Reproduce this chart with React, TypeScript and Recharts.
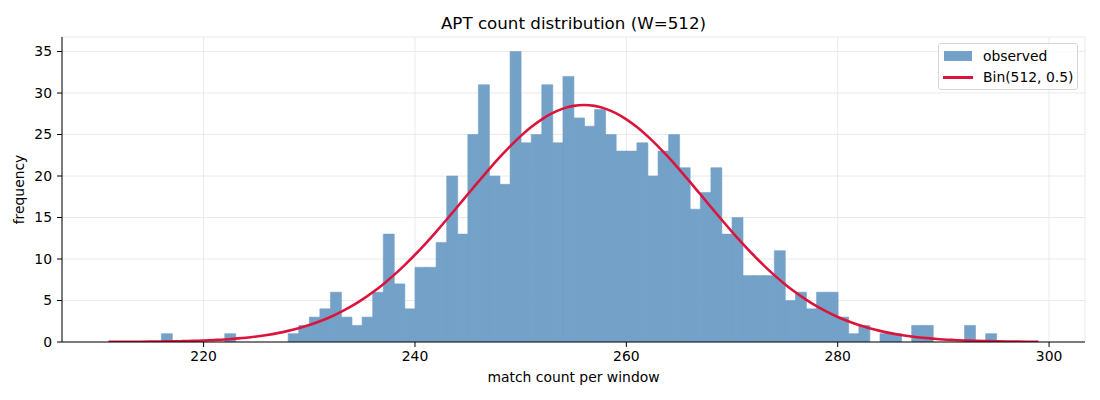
import React from "react";
import { ComposedChart, Bar, Line, XAxis, YAxis, CartesianGrid } from "recharts";

const binStarts = [
  211, 212, 213, 214, 215, 216, 217, 218, 219, 220,
  221, 222, 223, 224, 225, 226, 227, 228, 229, 230,
  231, 232, 233, 234, 235, 236, 237, 238, 239, 240,
  241, 242, 243, 244, 245, 246, 247, 248, 249, 250,
  251, 252, 253, 254, 255, 256, 257, 258, 259, 260,
  261, 262, 263, 264, 265, 266, 267, 268, 269, 270,
  271, 272, 273, 274, 275, 276, 277, 278, 279, 280,
  281, 282, 283, 284, 285, 286, 287, 288, 289, 290,
  291, 292, 293, 294, 295, 296, 297, 298, 299,
];

const observed = [
  0, 0, 0, 0, 0, 1, 0, 0, 0, 0,
  0, 1, 0, 0, 0, 0, 0, 1, 2, 3,
  4, 6, 3, 2, 3, 6, 13, 7, 4, 9,
  9, 12, 20, 13, 25, 31, 20, 19, 35, 24,
  25, 31, 24, 32, 27, 26, 28, 25, 23, 23,
  24, 20, 23, 25, 21, 16, 18, 21, 13, 15,
  8, 8, 8, 11, 5, 6, 4, 6, 6, 3,
  1, 2, 0, 1, 1, 0, 2, 2, 0, 0,
  0, 2, 0, 1, 0, 0, 0, 0, 0,
];

const binomialCurve = [
  0.01, 0.01, 0.02, 0.03, 0.04, 0.06, 0.08, 0.1, 0.14, 0.18,
  0.24, 0.31, 0.41, 0.52, 0.67, 0.85, 1.07, 1.34, 1.66, 2.04,
  2.49, 3.01, 3.62, 4.31, 5.1, 5.99, 6.97, 8.06, 9.24, 10.51,
  11.86, 13.28, 14.76, 16.27, 17.8, 19.32, 20.81, 22.24, 23.58, 24.81,
  25.9, 26.83, 27.57, 28.12, 28.45, 28.56, 28.45, 28.12, 27.57, 26.83,
  25.9, 24.81, 23.58, 22.24, 20.81, 19.32, 17.8, 16.27, 14.76, 13.28,
  11.86, 10.51, 9.24, 8.06, 6.97, 5.99, 5.1, 4.31, 3.62, 3.01,
  2.49, 2.04, 1.66, 1.34, 1.07, 0.85, 0.67, 0.52, 0.41, 0.31,
  0.24, 0.18, 0.14, 0.1, 0.08, 0.06, 0.04, 0.03, 0.02,
];

const xTicks = [220, 240, 260, 280, 300];
const yTicks = [0, 5, 10, 15, 20, 25, 30, 35];

const data = binStarts.map((x, i) => ({
  x,
  observed: observed[i],
  curve: binomialCurve[i],
}));

const FONT = "'DejaVu Sans', sans-serif";
const TICK_FONT = 13.9;
const BAR_COLOR = "#74a1c7";

export default function App() {
  return (
    <div
      style={{
        position: "absolute",
        left: 0,
        top: 0,
        width: 1100,
        height: 400,
        fontFamily: FONT,
        background: "#fff",
      }}
    >
      <div
        style={{
          position: "absolute",
          left: 62,
          top: 12,
          width: 1023,
          textAlign: "center",
          fontSize: 16.7,
          lineHeight: "22px",
          color: "#000",
        }}
      >
        APT count distribution (W=512)
      </div>
      <ComposedChart
        width={1100}
        height={400}
        data={data}
        margin={{ top: 37, right: 15, bottom: 0, left: 0 }}
        barCategoryGap={0}
        barGap={0}
        style={{ fontFamily: FONT }}
      >
        <CartesianGrid stroke="#e5e5e5" strokeWidth={0.8} />
        <XAxis
          dataKey="x"
          type="number"
          domain={[206.6, 303.4]}
          allowDataOverflow
          ticks={xTicks}
          height={58}
          tickSize={5}
          tickMargin={4}
          tick={{ fill: "#000", fontSize: TICK_FONT }}
          axisLine={{ stroke: "#000", strokeWidth: 1 }}
          tickLine={{ stroke: "#000", strokeWidth: 1 }}
          label={{
            value: "match count per window",
            position: "insideBottom",
            offset: 18,
            fill: "#000",
            fontSize: TICK_FONT,
          }}
        />
        <XAxis
          xAxisId="bins"
          dataKey="x"
          type="number"
          domain={[206.1, 302.9]}
          allowDataOverflow
          hide
        />
        <YAxis
          type="number"
          domain={[0, 36.75]}
          allowDataOverflow
          ticks={yTicks}
          width={62}
          tickSize={5}
          tickMargin={5}
          tick={{ fill: "#000", fontSize: TICK_FONT }}
          axisLine={{ stroke: "#000", strokeWidth: 1 }}
          tickLine={{ stroke: "#000", strokeWidth: 1 }}
          label={{
            value: "frequency",
            angle: -90,
            position: "insideLeft",
            offset: 19,
            fill: "#000",
            fontSize: TICK_FONT,
            style: { textAnchor: "middle" },
          }}
        />
        <Bar
          xAxisId="bins"
          dataKey="observed"
          fill={BAR_COLOR}
          stroke={BAR_COLOR}
          strokeWidth={0.6}
          isAnimationActive={false}
        />
        <Line
          dataKey="curve"
          type="monotone"
          stroke="#dc143c"
          strokeWidth={2.6}
          dot={false}
          activeDot={false}
          isAnimationActive={false}
        />
      </ComposedChart>
      <div
        style={{
          position: "absolute",
          left: 938,
          top: 43,
          width: 138,
          height: 45,
          border: "1px solid #d5d5d5",
          borderRadius: 3,
          background: "rgba(255,255,255,0.8)",
          fontSize: TICK_FONT,
          color: "#000",
        }}
      >
        <div
          style={{
            position: "absolute",
            left: 5,
            top: 7,
            width: 28,
            height: 10,
            background: BAR_COLOR,
          }}
        />
        <div style={{ position: "absolute", left: 44, top: 3, lineHeight: "18px" }}>
          observed
        </div>
        <div
          style={{
            position: "absolute",
            left: 4,
            top: 32,
            width: 30,
            height: 2.6,
            background: "#dc143c",
          }}
        />
        <div style={{ position: "absolute", left: 44, top: 24, lineHeight: "18px" }}>
          Bin(512, 0.5)
        </div>
      </div>
    </div>
  );
}
